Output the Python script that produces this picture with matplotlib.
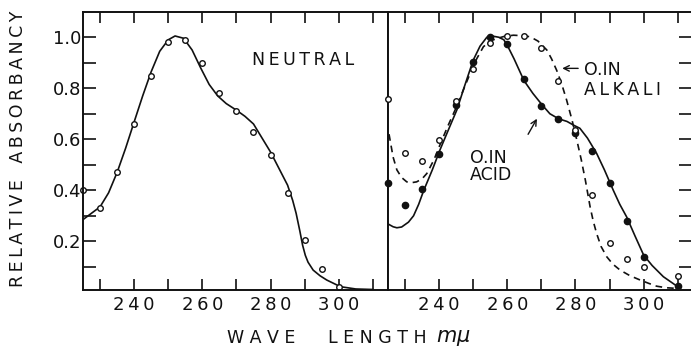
import numpy as np
import matplotlib.pyplot as plt
from matplotlib.ticker import MultipleLocator

'''Values read off the scanned figure (wavelength in m-mu, relative absorbancy)'''
# neutral solution: measured points
neutral_wl = [225, 230, 235, 240, 245, 250, 255, 260, 265, 270, 275, 280, 285, 290, 295, 300]
neutral_pts = [0.40, 0.33, 0.47, 0.66, 0.85, 0.98, 0.99, 0.90, 0.78, 0.71, 0.63, 0.54, 0.39, 0.205, 0.093, 0.02]

# neutral solution: drawn curve
neutral_curve_wl = [225.0, 227.5, 230, 232.5, 235, 237.5, 240, 242.5, 245, 247.5, 250, 252, 254.5,
                    257, 259.5, 262, 264.5, 267, 270, 272.5, 275, 277.5, 280, 282.5, 285, 286.5,
                    287.5, 288.6, 289.4, 290.2, 291, 292.5, 294.5, 296.5, 300.5, 305, 310]
neutral_curve = [0.285, 0.31, 0.335, 0.39, 0.47, 0.565, 0.668, 0.77, 0.865, 0.945, 0.99, 1.005, 0.996,
                 0.95, 0.88, 0.815, 0.77, 0.74, 0.714, 0.69, 0.66, 0.605, 0.55, 0.485, 0.42, 0.36,
                 0.31, 0.24, 0.185, 0.145, 0.118, 0.087, 0.065, 0.048, 0.022, 0.013, 0.011]

# 0.1 N acid: measured points
acid_wl = [225, 230, 235, 240, 245, 250, 255, 260, 265, 270, 275, 280, 285, 290, 295, 300, 310]
acid_pts = [0.43, 0.343, 0.406, 0.542, 0.733, 0.903, 1.0, 0.975, 0.837, 0.73, 0.678, 0.625,
            0.554, 0.43, 0.279, 0.138, 0.024]

# 0.1 N acid: drawn curve
acid_curve_wl = [225, 226.5, 227.6, 229, 231, 232.5, 234, 235.5, 238, 240.3, 242.5, 245.2, 247.5,
                 250, 252, 254, 255.5, 257.5, 259, 260.5, 262, 264.9, 267.5, 270.2, 272.5, 275.1,
                 277.5, 279.5, 281.3, 283.5, 286.2, 288.5, 291.1, 293, 295, 297.5, 300, 302.5,
                 305.8, 310]
acid_curve = [0.268, 0.257, 0.253, 0.256, 0.275, 0.30, 0.345, 0.40, 0.48, 0.56, 0.63, 0.715, 0.81,
              0.91, 0.965, 1.0, 1.005, 1.0, 0.99, 0.955, 0.915, 0.83, 0.78, 0.735, 0.70, 0.68,
              0.67, 0.655, 0.643, 0.605, 0.545, 0.48, 0.40, 0.345, 0.296, 0.22, 0.146, 0.105,
              0.061, 0.022]

# 0.1 N alkali: measured points
alkali_wl = [225, 230, 235, 240, 245, 250, 255, 260, 265, 270, 275, 280, 285, 290, 295, 300, 310]
alkali_pts = [0.756, 0.546, 0.516, 0.597, 0.75, 0.874, 0.976, 1.006, 1.005, 0.956, 0.83, 0.636,
              0.381, 0.192, 0.129, 0.098, 0.062]

# 0.1 N alkali: drawn (dashed) curve
alkali_curve_wl = [225.3, 226.5, 227.6, 229, 230.5, 232, 233.4, 235, 236.4, 238.5, 240.3, 242.5,
                   245.2, 247, 249.1, 251, 253, 255, 256.9, 259, 261.8, 264.5, 266.7, 269, 271.6,
                   273, 274.5, 276, 277.4, 279, 280.4, 281.7, 282.9, 284.3, 285.2, 286.2, 287.5,
                   289.2, 291, 293.1, 296, 299, 301.5, 303.8, 306.5, 310]
alkali_curve = [0.62, 0.53, 0.48, 0.45, 0.433, 0.43, 0.433, 0.445, 0.466, 0.52, 0.58, 0.65,
                0.73, 0.79, 0.858, 0.915, 0.963, 0.985, 0.995, 1.003, 1.008, 1.006, 1.002, 0.985, 0.95,
                0.915, 0.87, 0.815, 0.754, 0.675, 0.597, 0.52, 0.44, 0.335, 0.28, 0.231, 0.18,
                0.139, 0.11, 0.087, 0.065, 0.048, 0.035, 0.024, 0.018, 0.015]

x_labelled = [240, 260, 280, 300]
x_ticklabels = ['2\u20094\u20090', '2\u20096\u20090', '2\u20098\u20090', '3\u20090\u20090']
y_labelled = [0.2, 0.4, 0.6, 0.8, 1.0]
y_ticklabels = ['0.2', '0.4', '0.6', '0.8', '1.0']

INK = '#111111'
W, H = 691, 355
TS = 12.5   # lettering size
sp = '\u2009'   # thin space, the original lettering is widely spaced


def spaced(word):
    return sp.join(word)


def style_axis(ax, xlim, show_left):
    ax.set_xlim(*xlim)
    ax.set_ylim(0.009, 1.099)
    ax.set_xticks(x_labelled)
    ax.set_xticklabels(x_ticklabels)
    ax.xaxis.set_minor_locator(MultipleLocator(10))
    ax.set_yticks(y_labelled)
    ax.yaxis.set_minor_locator(MultipleLocator(0.1))
    for s in ax.spines.values():
        s.set_linewidth(1.4)
        s.set_color(INK)
    ax.tick_params(axis='x', which='both', direction='in', top=True, bottom=True,
                   length=8, width=1.2, color=INK, labelsize=13, pad=4, labelcolor=INK)
    if show_left:
        ax.tick_params(axis='y', which='both', direction='in', left=True, right=False,
                       length=9, width=1.2, color=INK, labelsize=13, pad=1, labelcolor=INK)
        ax.set_yticklabels(y_ticklabels)
    else:
        ax.spines['right'].set_visible(False)
        ax.tick_params(axis='y', which='both', direction='in', left=False, right=True,
                       labelleft=False, length=9, width=1.2, color=INK)


def main():
    fig = plt.figure(figsize=(W / 100, H / 100), dpi=100)
    bottom = (H - 290) / H
    height = (290 - 12) / H
    ax1 = fig.add_axes([83 / W, bottom, (388 - 83) / W, height])
    ax2 = fig.add_axes([388 / W, bottom, (691 - 388) / W, height])

    # neutral panel
    style_axis(ax1, (225.0, 314.45), True)
    ax1.plot(neutral_curve_wl, neutral_curve, color=INK, lw=1.2)
    ax1.plot(neutral_wl, neutral_pts, 'o', ms=4, mfc='white', mec=INK, mew=1.0, clip_on=False)
    ax1.text(289.6, 0.91, spaced('NEUTRAL'), fontsize=TS, ha='center', va='center', color=INK)

    # acid / alkali panel
    style_axis(ax2, (225.0, 313.9), False)
    ax2.plot(acid_curve_wl, acid_curve, color=INK, lw=1.2)
    ax2.plot(alkali_curve_wl, alkali_curve, color=INK, lw=1.2, dashes=(4, 3))
    ax2.plot(acid_wl, acid_pts, 'o', ms=4.5, mfc=INK, mec=INK, clip_on=False, zorder=3)
    ax2.plot(alkali_wl, alkali_pts, 'o', ms=4, mfc='white', mec=INK, mew=1.0, clip_on=False, zorder=3)

    ax2.text(249.1, 0.525, 'O.IN', fontsize=TS, ha='left', va='center', color=INK)
    ax2.text(249.1, 0.46, 'ACID', fontsize=TS, ha='left', va='center', color=INK)
    ax2.annotate('', xy=(269.1, 0.69), xytext=(265.7, 0.61),
                 arrowprops=dict(arrowstyle='->', color=INK, lw=1.0))
    ax2.text(282.5, 0.871, 'O.IN', fontsize=TS, ha='left', va='center', color=INK)
    ax2.text(282.5, 0.793, spaced('ALKALI'), fontsize=TS, ha='left', va='center', color=INK)
    ax2.annotate('', xy=(275.3, 0.878), xytext=(281.6, 0.878),
                 arrowprops=dict(arrowstyle='->', color=INK, lw=1.0))

    # axis titles
    fig.text(18.5 / W, (H - 149) / H, spaced('RELATIVE') + '   ' + spaced('ABSORBANCY'),
             rotation=90, fontsize=TS, ha='center', va='center', color=INK)
    fig.text(227 / W, (H - 338) / H, 'W A V E', fontsize=TS, ha='left', va='center', color=INK)
    fig.text(328 / W, (H - 338) / H, 'L E N G T H', fontsize=TS, ha='left', va='center', color=INK)
    fig.text(436 / W, (H - 338) / H, r'$m\mu$', fontsize=15, ha='left', va='center', color=INK)

    fig.savefig('out.png', dpi=100)


if __name__ == '__main__':
    main()
